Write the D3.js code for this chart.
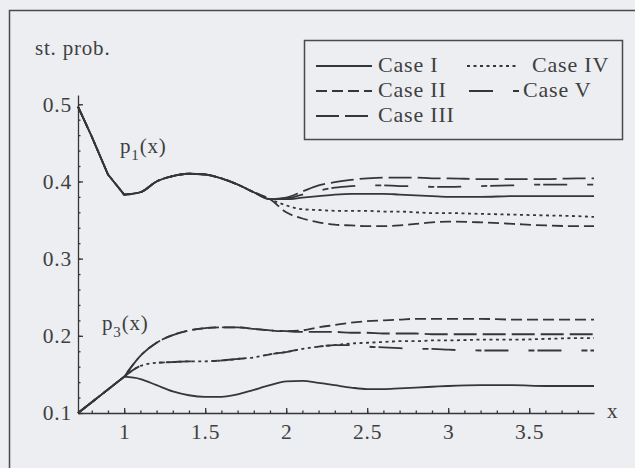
<!DOCTYPE html>
<html>
<head>
<meta charset="utf-8">
<script src="https://cdn.jsdelivr.net/npm/d3@7"></script>
<style>
    html, body { margin: 0; padding: 0; background: #eceef1; }
    svg { display: block; }
    text { font-family: 'Liberation Serif', 'Times New Roman', serif; fill: #3f3f3f; letter-spacing: 0.8px; }
</style>
</head>
<body>
<svg id="chart" width="635" height="468"></svg>
<script>
// x grid shared by every curve
const xValues = [0.715, 0.8, 0.9, 1.0, 1.1, 1.2, 1.3, 1.4, 1.5, 1.6, 1.7, 1.8, 1.9, 2.0,
    2.1, 2.2, 2.3, 2.4, 2.5, 2.6, 2.7, 2.8, 2.9, 3.0, 3.2, 3.4, 3.6, 3.8, 3.9];

// p1(x) for each case
const p1CaseI   = [0.497, 0.458, 0.409, 0.383, 0.386, 0.400, 0.407, 0.410, 0.409, 0.404, 0.396, 0.386, 0.377, 0.377,
    0.379, 0.381, 0.383, 0.384, 0.384, 0.384, 0.383, 0.382, 0.381, 0.380, 0.380, 0.381, 0.381, 0.381, 0.381];
const p1CaseII  = [0.497, 0.458, 0.409, 0.383, 0.386, 0.400, 0.407, 0.410, 0.409, 0.404, 0.396, 0.386, 0.377, 0.360,
    0.352, 0.347, 0.344, 0.343, 0.342, 0.342, 0.343, 0.345, 0.347, 0.348, 0.347, 0.345, 0.343, 0.342, 0.342];
const p1CaseIII = [0.497, 0.458, 0.409, 0.383, 0.386, 0.400, 0.407, 0.410, 0.409, 0.404, 0.396, 0.386, 0.377, 0.379,
    0.387, 0.395, 0.399, 0.402, 0.404, 0.405, 0.405, 0.405, 0.404, 0.404, 0.403, 0.403, 0.403, 0.404, 0.404];
const p1CaseIV  = [0.497, 0.458, 0.409, 0.383, 0.386, 0.400, 0.407, 0.410, 0.409, 0.404, 0.396, 0.386, 0.377, 0.369,
    0.364, 0.363, 0.362, 0.362, 0.362, 0.361, 0.361, 0.360, 0.359, 0.359, 0.358, 0.357, 0.356, 0.355, 0.354];
const p1CaseV   = [0.497, 0.458, 0.409, 0.383, 0.386, 0.400, 0.407, 0.410, 0.409, 0.404, 0.396, 0.386, 0.377, 0.378,
    0.383, 0.388, 0.392, 0.394, 0.395, 0.395, 0.394, 0.394, 0.393, 0.393, 0.394, 0.395, 0.396, 0.396, 0.396];

// p3(x) for each case
const p3CaseI   = [0.100, 0.114, 0.1305, 0.147, 0.144, 0.136, 0.128, 0.123, 0.121, 0.121, 0.124, 0.130, 0.136, 0.141,
    0.1415, 0.139, 0.136, 0.133, 0.131, 0.131, 0.132, 0.133, 0.134, 0.135, 0.136, 0.136, 0.135, 0.135, 0.135];
const p3CaseII  = [0.100, 0.114, 0.1305, 0.147, 0.174, 0.191, 0.201, 0.207, 0.210, 0.211, 0.211, 0.209, 0.207, 0.206,
    0.207, 0.211, 0.214, 0.217, 0.219, 0.220, 0.221, 0.222, 0.222, 0.222, 0.222, 0.221, 0.221, 0.221, 0.221];
const p3CaseIII = [0.100, 0.114, 0.1305, 0.147, 0.174, 0.191, 0.201, 0.207, 0.210, 0.211, 0.211, 0.209, 0.207, 0.206,
    0.205, 0.205, 0.205, 0.204, 0.204, 0.203, 0.203, 0.203, 0.202, 0.202, 0.202, 0.202, 0.202, 0.202, 0.202];
const p3CaseIV  = [0.100, 0.114, 0.1305, 0.147, 0.161, 0.165, 0.166, 0.167, 0.167, 0.168, 0.170, 0.172, 0.176, 0.179,
    0.183, 0.186, 0.188, 0.190, 0.191, 0.192, 0.193, 0.193, 0.194, 0.194, 0.195, 0.195, 0.196, 0.197, 0.197];
const p3CaseV   = [0.100, 0.114, 0.1305, 0.147, 0.161, 0.165, 0.166, 0.167, 0.167, 0.168, 0.170, 0.172, 0.176, 0.179,
    0.183, 0.186, 0.188, 0.188, 0.186, 0.185, 0.184, 0.183, 0.183, 0.182, 0.181, 0.181, 0.181, 0.181, 0.181];

const caseNames = ['Case I', 'Case II', 'Case III', 'Case IV', 'Case V'];
const xTickValues = [1, 1.5, 2, 2.5, 3, 3.5];
const yTickValues = [0.1, 0.2, 0.3, 0.4, 0.5];

// line styles per case (dash patterns)
const caseDash = {
    'Case I': null,
    'Case II': '11,5',
    'Case III': '23,6',
    'Case IV': '3,3.5',
    'Case V': '24,20,6,3'
};

const svg = d3.select('#chart');
const ink = '#363636';

// scanned page frame (only top/left edges are inside the picture)
svg.append('rect')
    .attr('x', 9.5)
    .attr('y', 10.5)
    .attr('width', 800)
    .attr('height', 600)
    .attr('fill', 'none')
    .attr('stroke', '#4a4a4a')
    .attr('stroke-width', 1.5);

const x = d3.scaleLinear().domain([0.715, 3.9]).range([78, 594]);
const y = d3.scaleLinear().domain([0.1, 0.512]).range([413, 95]);

// minor ticks first, then major axis on top
svg.append('g')
    .attr('transform', `translate(${x.range()[0]},0)`)
    .call(d3.axisLeft(y).tickValues(d3.range(0.1, 0.511, 0.02)).tickSize(-2.5).tickFormat(''))
    .call(g => g.select('.domain').remove());
svg.append('g')
    .attr('transform', `translate(0,${y.range()[0]})`)
    .call(d3.axisBottom(x).tickValues(d3.range(0.8, 3.85, 0.1)).tickSize(-2.5).tickFormat(''))
    .call(g => g.select('.domain').remove());

svg.append('g')
    .attr('transform', `translate(${x.range()[0]},0)`)
    .call(d3.axisLeft(y).tickValues(yTickValues).tickSize(-5).tickSizeOuter(0).tickPadding(6)
        .tickFormat(d3.format('.1f')));
svg.append('g')
    .attr('transform', `translate(0,${y.range()[0]})`)
    .call(d3.axisBottom(x).tickValues(xTickValues).tickSize(-5).tickSizeOuter(0).tickPadding(11)
        .tickFormat(d3.format('')));

svg.selectAll('.tick line, .domain')
    .attr('stroke', ink)
    .attr('stroke-width', 1.3);
svg.selectAll('.tick text')
    .attr('fill', '#3f3f3f')
    .style('font-family', "'Liberation Serif', serif")
    .style('font-size', '21.5px');

// curves: straight segments up to x = 1 (kinks in the original), smooth after
const lineStart = d3.line()
    .x(d => x(d[0]))
    .y(d => y(d[1]));
const lineRest = d3.line()
    .x(d => x(d[0]))
    .y(d => y(d[1]))
    .curve(d3.curveMonotoneX);

function curvePath(values) {
    const pts = xValues.map((xv, i) => [xv, values[i]]);
    const head = pts.filter(p => p[0] <= 1.0);
    const tail = pts.filter(p => p[0] >= 1.0);
    // join the two pieces into one subpath so dashes run on
    return lineStart(head) + lineRest(tail).replace(/^M[^CLZ]*/, '');
}

const series = [
    ['Case I', p1CaseI], ['Case II', p1CaseII], ['Case III', p1CaseIII], ['Case IV', p1CaseIV], ['Case V', p1CaseV],
    ['Case I', p3CaseI], ['Case II', p3CaseII], ['Case III', p3CaseIII], ['Case IV', p3CaseIV], ['Case V', p3CaseV]
];

svg.append('g')
    .selectAll('path')
    .data(series)
    .enter()
    .append('path')
    .attr('d', d => curvePath(d[1]))
    .attr('fill', 'none')
    .attr('stroke', ink)
    .attr('stroke-width', 1.8)
    .attr('stroke-linejoin', 'round')
    .attr('stroke-dasharray', d => caseDash[d[0]]);

// axis labels
svg.append('text')
    .attr('x', 35)
    .attr('y', 55)
    .style('font-size', '21px')
    .text('st. prob.');
svg.append('text')
    .attr('x', 607)
    .attr('y', 418)
    .style('font-size', '21px')
    .text('x');

// curve labels p1(x), p3(x)
function curveLabel(px, py, sub) {
    const t = svg.append('text')
        .attr('x', px)
        .attr('y', py)
        .style('font-size', '21px');
    t.append('tspan').text('p');
    t.append('tspan').attr('dy', 7).style('font-size', '15px').text(sub);
    t.append('tspan').attr('dy', -7).text('(x)');
}
curveLabel(120, 153, '1');
curveLabel(102, 330, '3');

// legend
const legend = svg.append('g');
legend.append('rect')
    .attr('x', 304.5)
    .attr('y', 40.5)
    .attr('width', 318)
    .attr('height', 99)
    .attr('fill', 'none')
    .attr('stroke', '#4a4a4a')
    .attr('stroke-width', 1.5);

const legendPos = [
    { lx: 316, ex: 372, tx: 378, by: 72 },
    { lx: 316, ex: 372, tx: 378, by: 97 },
    { lx: 316, ex: 372, tx: 378, by: 122 },
    { lx: 467, ex: 518, tx: 532, by: 72 },
    { lx: 469, ex: 519, tx: 523, by: 97 }
];

caseNames.forEach((name, i) => {
    const p = legendPos[i];
    legend.append('line')
        .attr('x1', p.lx)
        .attr('x2', p.ex)
        .attr('y1', p.by - 6)
        .attr('y2', p.by - 6)
        .attr('stroke', ink)
        .attr('stroke-width', 1.8)
        .attr('stroke-dasharray', caseDash[name]);
    legend.append('text')
        .attr('x', p.tx)
        .attr('y', p.by)
        .style('font-size', '22px')
        .text(name);
});
</script>
</body>
</html>
